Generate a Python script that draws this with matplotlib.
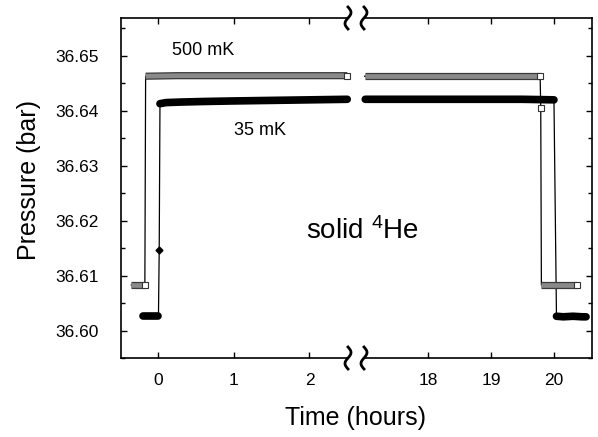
#Pressure of solid 4He vs. time after temperature steps
#Broken time axis: first hours and around 18-20 h

import matplotlib.pyplot as plt
import matplotlib.patheffects as pe
import numpy as np
from matplotlib.lines import Line2D

plt.rcParams['font.family'] = ['Liberation Sans', 'DejaVu Sans']
plt.rcParams['mathtext.default'] = 'regular'

#500 mK series (hours, bar)
t500_before = [-0.36, -0.30, -0.24, -0.18]
p500_before = [36.6083, 36.6083, 36.6083, 36.6083]
t500_plateau = [-0.17, 0.25, 0.75, 1.25, 1.75, 2.25, 2.50,
                17.00, 17.50, 18.00, 18.50, 19.00, 19.50, 19.78]
p500_plateau = [36.6463, 36.6464, 36.6464, 36.6464, 36.6464, 36.6464, 36.6464,
                36.6463, 36.6463, 36.6463, 36.6463, 36.6463, 36.6463, 36.6463]
t500_step = [19.79]
p500_step = [36.6405]
t500_after = [19.80, 19.95, 20.10, 20.25, 20.37]
p500_after = [36.6083, 36.6083, 36.6083, 36.6083, 36.6083]

#35 mK series
t35_before = [-0.20, -0.13, -0.06, 0.00]
p35_before = [36.6026, 36.6026, 36.6026, 36.6026]
t35_step = [0.01]
p35_step = [36.6147]
t35_plateau = [0.02, 0.10, 0.30, 0.60, 1.00, 1.50, 2.00, 2.50,
               17.00, 17.50, 18.00, 18.50, 19.00, 19.50, 20.00]
p35_plateau = [36.6413, 36.6415, 36.6416, 36.6417, 36.6418, 36.6419, 36.6420, 36.6421,
               36.6421, 36.6421, 36.6421, 36.6421, 36.6421, 36.6421, 36.6420]
t35_after = [20.04, 20.15, 20.30, 20.45, 20.51]
p35_after = [36.6026, 36.6025, 36.6026, 36.6025, 36.6025]

xticks_left = [0, 1, 2]
xticks_right = [18, 19, 20]
yticks = [36.60, 36.61, 36.62, 36.63, 36.64, 36.65]

W, H = 598, 437
fig = plt.figure(figsize=(W/100, H/100), dpi=100)
bot, top = 1-358/H, 1-18/H
ax1 = fig.add_axes([120.7/W, bot, (348-120.7)/W, top-bot])
ax2 = fig.add_axes([364/W, bot, (591.7-364)/W, top-bot])

t500_all = t500_before+t500_plateau+t500_step+t500_after
p500_all = p500_before+p500_plateau+p500_step+p500_after
t35_all = t35_before+t35_step+t35_plateau+t35_after
p35_all = p35_before+p35_step+p35_plateau+p35_after

grey_band = [pe.Stroke(linewidth=5.2, foreground='#3a3a3a'), pe.Normal()]

for ax in (ax1, ax2):
    #thin connecting lines
    ax.plot(t500_all, p500_all, color='black', lw=0.9, zorder=2)
    ax.plot(t35_all, p35_all, color='black', lw=0.9, zorder=2)
    #dense 500 mK points drawn as a grey band, last point of each run open
    for ts, ps in [(t500_before, p500_before), (t500_plateau[:7], p500_plateau[:7]),
                   (t500_plateau[7:], p500_plateau[7:]), (t500_after, p500_after)]:
        ax.plot(ts, ps, color='#8a8a8a', lw=3.4, solid_capstyle='butt', zorder=3,
                clip_on=False, path_effects=grey_band)
        ax.plot(ts[-1:], ps[-1:], 's', ms=5, mfc='white', mec='#333333', mew=0.8, zorder=4, clip_on=False)
    ax.plot(t500_step, p500_step, 's', ms=5, mfc='white', mec='#333333', mew=0.8, zorder=4)
    #dense 35 mK points drawn as a black band
    for ts, ps in [(t35_before, p35_before), (t35_plateau[:8], p35_plateau[:8]),
                   (t35_plateau[8:], p35_plateau[8:]), (t35_after, p35_after)]:
        ax.plot(ts, ps, color='black', lw=5.5, solid_capstyle='round', zorder=3, clip_on=False)
    ax.plot(t35_step, p35_step, 'D', ms=3.5, color='black', zorder=4)

    ax.set_ylim(36.5979, 36.6569)
    ax.set_yticks(yticks)
    ax.set_yticks(np.arange(36.595, 36.66, 0.01), minor=True)
    ax.tick_params(which='both', direction='in', top=True, width=1.0, labelsize=12.5)
    ax.tick_params(which='major', length=4.5)
    ax.tick_params(which='minor', length=3)
    ax.tick_params(axis='x', pad=11)
    for s in ax.spines.values():
        s.set_linewidth(1.2)

ax1.set_xlim(-0.5, 2.51)
ax1.set_xticks(xticks_left)
ax1.spines['right'].set_visible(False)
ax1.tick_params(axis='y', which='both', right=False, pad=16)
ax1.yaxis.set_major_formatter(plt.FormatStrFormatter('%.2f'))

ax2.set_xlim(16.98, 20.6)
ax2.set_xticks(xticks_right)
ax2.spines['left'].set_visible(False)
ax2.tick_params(axis='y', which='both', left=False, right=True, labelleft=False)

#break marks on top and bottom spines
for xp in (348, 364):
    for yp in (18, 358):
        s = np.linspace(0, 1, 40)
        xs = (xp + 3.0*np.sin(2*np.pi*s))/W
        ys = 1-(yp - 11 + 22*s)/H
        fig.add_artist(Line2D(xs, ys, color='black', lw=2.0, transform=fig.transFigure))

ax1.text(0.59, 36.6509, '500 mK', fontsize=13, ha='center', va='center')
ax1.text(1.35, 36.6365, '35 mK', fontsize=13, ha='center', va='center')
fig.text(362/W, 1-231/H, 'solid $^{4}$He', fontsize=20, ha='center', va='center')
fig.text(29/W, 1-180/H, 'Pressure (bar)', fontsize=18, rotation=90, ha='center', va='center')
fig.text(355/W, 1-418/H, 'Time (hours)', fontsize=18, ha='center', va='center')

plt.savefig('out.png', dpi=100)
